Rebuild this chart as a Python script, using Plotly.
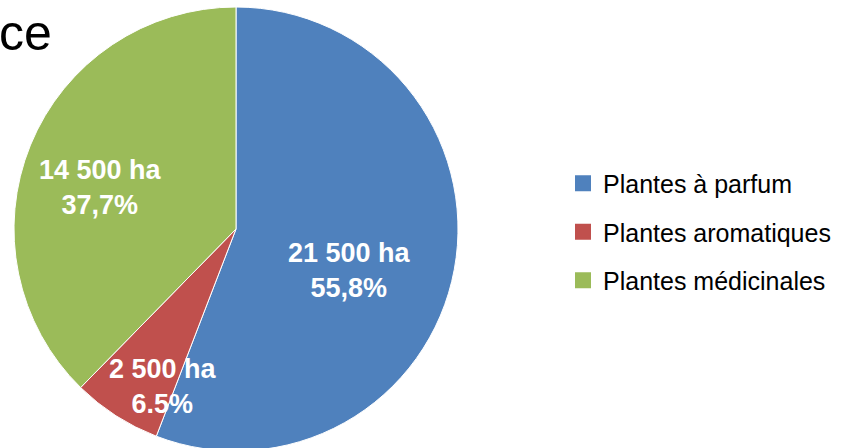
import plotly.graph_objects as go

# ---- data ----
categories = ["Plantes à parfum", "Plantes aromatiques", "Plantes médicinales"]
areas_ha = [21500, 2500, 14500]
percent_labels = ["55,8%", "6.5%", "37,7%"]
colors = ["#4F81BD", "#C0504D", "#9BBB59"]
title_text = "ce"

W, H = 844, 460   # figure a bit taller than the window: the pie bottom is cut off
FONT = "Liberation Sans, Arial, sans-serif"


def fmt_ha(v):
    return f"{v:,}".replace(",", " ") + " ha"


fig = go.Figure()
fig.add_trace(go.Pie(
    labels=categories, values=areas_ha, sort=False, direction="clockwise", rotation=0,
    marker=dict(colors=colors, line=dict(color="white", width=1)),
    textinfo="none", hoverinfo="label+value+percent", showlegend=False,
    domain=dict(x=[14 / W, 458 / W], y=[1 - 451 / H, 1 - 7 / H]),
))

for i, (name, col) in enumerate(zip(categories, colors)):
    fig.add_trace(go.Scatter(
        x=[None], y=[None], mode="markers", name=name, legendgroup=f"g{i}",
        marker=dict(symbol="square", size=16, color=col), showlegend=True,
        hoverinfo="skip",
    ))

# data labels (text positions in pixel coords of the picture)
label_pos = [(349, 270), (163, 386.5), (100, 187.5)]
for i, (px, py) in enumerate(label_pos):
    fig.add_annotation(
        x=px / W, y=1 - py / H, xref="paper", yref="paper",
        xanchor="center", yanchor="middle", showarrow=False,
        text=f"<b>{fmt_ha(areas_ha[i])}<br>{percent_labels[i]}</b>",
        font=dict(family=FONT, size=27, color="white"), align="center",
    )

fig.add_annotation(
    x=-3 / W, y=1 - 33 / H, xref="paper", yref="paper",
    xanchor="left", yanchor="middle", showarrow=False,
    text=title_text, font=dict(family=FONT, size=50, color="black"),
)

fig.update_layout(
    width=W, height=H, margin=dict(l=0, r=0, t=0, b=0),
    paper_bgcolor="white", plot_bgcolor="white",
    xaxis=dict(visible=False), yaxis=dict(visible=False),
    legend=dict(
        x=563 / W, y=1 - 232 / H, xanchor="left", yanchor="middle",
        font=dict(family=FONT, size=25, color="black"),
        tracegroupgap=13, itemwidth=30, bgcolor="rgba(0,0,0,0)",
    ),
)

fig.write_html(
    "out.html",
    config={"displayModeBar": False},
    post_script="document.body.style.margin='0';document.body.style.overflow='hidden';",
)
